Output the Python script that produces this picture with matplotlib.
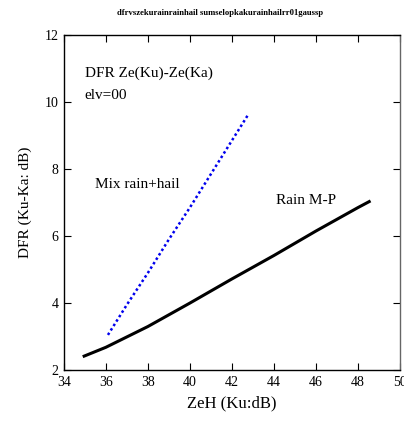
import matplotlib
matplotlib.use("Agg")
import matplotlib.pyplot as plt

# Rain M-P curve
zeh_rain = [34.9, 36.0, 38.0, 40.0, 42.0, 44.0, 46.0, 48.0, 48.6]
dfr_rain = [2.40, 2.68, 3.30, 4.00, 4.72, 5.42, 6.15, 6.85, 7.05]

# Mix rain+hail curve
zeh_mix = [36.1, 37.0, 38.0, 39.0, 40.0, 41.0, 42.0, 42.8]
dfr_mix = [3.05, 3.95, 4.90, 5.90, 6.85, 7.85, 8.85, 9.65]

x_ticks = [34, 36, 38, 40, 42, 44, 46, 48, 50]
y_ticks = [2, 4, 6, 8, 10, 12]

plt.rcParams["font.family"] = ["Liberation Serif", "DejaVu Serif"]

fig = plt.figure(figsize=(4.04, 4.22), dpi=100)
ax = fig.add_axes([0.158, 0.123, 0.832, 0.794])

ax.plot(zeh_rain, dfr_rain, color="black", lw=2.2, solid_capstyle="butt")
ax.plot(zeh_mix, dfr_mix, color="#0000ee", lw=1.8, linestyle=(0, (1, 1.1)))

ax.set_xlim(34, 50)
ax.set_ylim(2, 12)
ax.set_xticks(x_ticks)
ax.set_yticks(y_ticks)
ax.tick_params(direction="in", length=5, width=0.8, top=True, right=True,
               labelsize=10, pad=4)
for s in ax.spines.values():
    s.set_linewidth(1.0)
ax.spines["right"].set_color("#666666")

ax.set_xlabel("ZeH (Ku:dB)", fontsize=12, labelpad=5)
ax.set_ylabel("DFR (Ku-Ka: dB)", fontsize=11, labelpad=9)

ax.text(35.0, 10.85, "DFR Ze(Ku)-Ze(Ka)", fontsize=11, va="center")
ax.text(35.0, 10.2, "elv=00", fontsize=11, va="center")
ax.text(35.5, 7.55, "Mix rain+hail", fontsize=11, va="center")
ax.text(44.1, 7.05, "Rain M-P", fontsize=11, va="center")

fig.text(0.545, 0.970, "dfrvszekurainrainhail sumselopkakurainhailrr01gaussp",
         fontsize=6.2, fontweight="bold", ha="center", va="center")

fig.savefig("out.png", dpi=100)
